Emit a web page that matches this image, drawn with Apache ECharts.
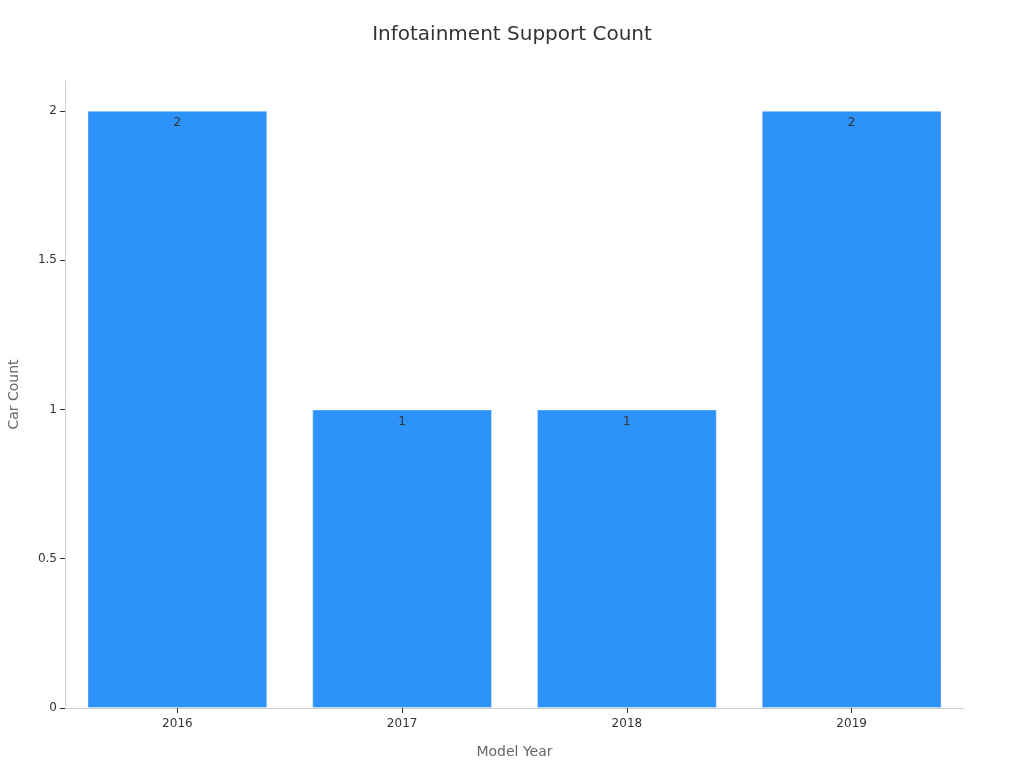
<!DOCTYPE html>
<html>
<head>
<meta charset="utf-8">
<script src="https://cdn.jsdelivr.net/npm/echarts@6/dist/echarts.min.js"></script>
<style>
html,body{margin:0;padding:0;background:#fff;}
#chart{width:1024px;height:768px;}
</style>
</head>
<body>
<div id="chart"></div>
<script>
const categories = ['2016', '2017', '2018', '2019'];
const carCounts = [2, 1, 1, 2];
const yTicks = [0, 0.5, 1, 1.5, 2];

const chart = echarts.init(document.getElementById('chart'), null, {renderer: 'canvas'});
chart.setOption({
  backgroundColor: '#ffffff',
  textStyle: {fontFamily: 'DejaVu Sans'},
  title: {
    text: 'Infotainment Support Count',
    left: 'center',
    top: 20,
    textStyle: {fontSize: 20, fontWeight: 'normal', color: '#333', fontFamily: 'DejaVu Sans'}
  },
  grid: {left: 65, right: 60, top: 81, bottom: 60, containLabel: false, outerBoundsMode: 'none'},
  xAxis: {
    type: 'category',
    data: categories,
    name: 'Model Year',
    nameLocation: 'middle',
    nameGap: 37,
    nameTextStyle: {fontSize: 14, color: '#666'},
    axisLine: {show: true, lineStyle: {color: '#ccc'}},
    axisTick: {show: true, alignWithLabel: true, length: 5, lineStyle: {color: '#333'}},
    axisLabel: {fontSize: 12, color: '#333', margin: 10}
  },
  yAxis: {
    type: 'value',
    min: 0,
    max: 2.1,
    interval: 0.5,
    name: 'Car Count',
    nameLocation: 'middle',
    nameGap: 44,
    nameTextStyle: {fontSize: 14, color: '#666'},
    axisLine: {show: true, lineStyle: {color: '#ccc'}},
    axisTick: {show: true, length: 5, lineStyle: {color: '#333'}, customValues: yTicks},
    axisLabel: {fontSize: 12, color: '#333', margin: 8, customValues: yTicks},
    splitLine: {show: false}
  },
  series: [{
    type: 'bar',
    data: carCounts,
    barCategoryGap: '20%',
    itemStyle: {color: '#2E93F9', borderColor: 'rgba(255,255,255,0.35)', borderWidth: 1},
    label: {show: true, position: 'insideTop', distance: 6, color: '#333', fontSize: 12}
  }]
});
</script>
</body>
</html>
